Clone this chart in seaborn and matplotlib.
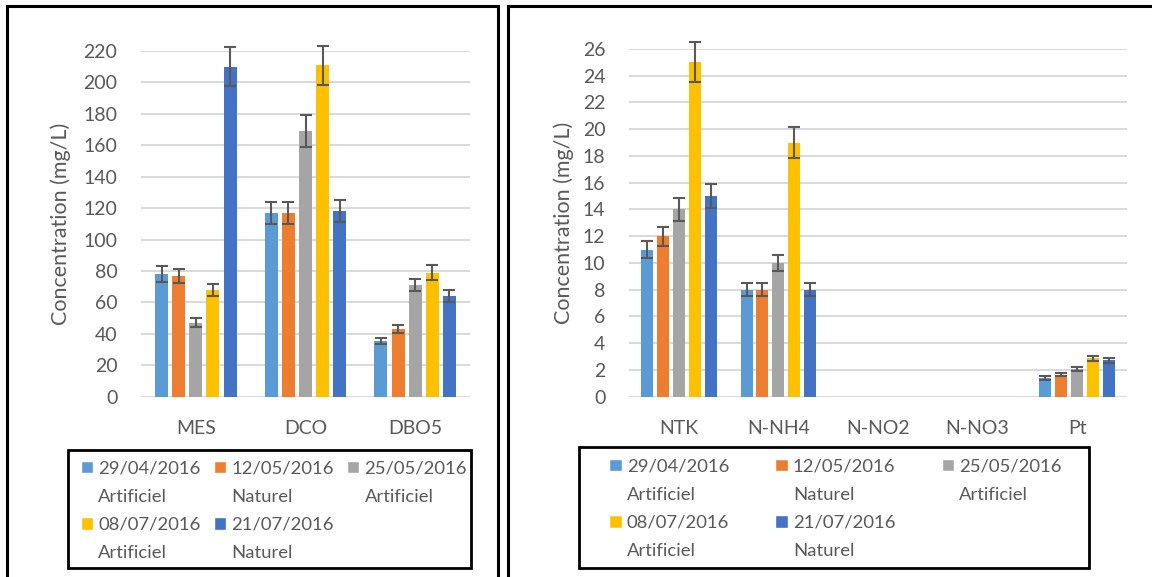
import matplotlib
matplotlib.use("Agg")
import matplotlib.pyplot as plt
import matplotlib.patches as mpatches
from matplotlib.container import BarContainer
from matplotlib.legend_handler import HandlerPatch
import numpy as np
import pandas as pd
import seaborn as sns

# sampling dates (hue) and colours
dates = ["29/04/2016\nArtificiel", "12/05/2016\nNaturel", "25/05/2016\nArtificiel",
         "08/07/2016\nArtificiel", "21/07/2016\nNaturel"]
colors = ["#5B9BD5", "#ED7D31", "#A5A5A5", "#FFC000", "#4472C4"]

# left chart : MES, DCO, DBO5
params_a = ["MES", "DCO", "DBO5"]
mes = [78, 77, 47, 68, 210]
mes_err = [5, 4.5, 2.8, 4, 12.5]
dco = [117, 117, 169, 211, 118]
dco_err = [7, 7, 10, 12.5, 7]
dbo5 = [35.5, 43, 71, 79, 64]
dbo5_err = [2, 2.5, 4, 4.5, 3.8]

# right chart : nitrogen / phosphorus
params_b = ["NTK", "N-NH4", "N-NO2", "N-NO3", "Pt"]
ntk = [11, 12, 14, 25, 15]
ntk_err = [0.65, 0.7, 0.85, 1.5, 0.9]
nnh4 = [8, 8, 10, 19, 8]
nnh4_err = [0.48, 0.48, 0.6, 1.15, 0.48]
nno2 = [np.nan] * 5
nno2_err = [np.nan] * 5
nno3 = [np.nan] * 5
nno3_err = [np.nan] * 5
pt = [1.4, 1.66, 2.06, 2.86, 2.71]
pt_err = [0.12, 0.12, 0.14, 0.18, 0.18]


def long_df(params, vals, errs):
    rows = []
    for p, v, e in zip(params, vals, errs):
        for d, vv, ee in zip(dates, v, e):
            rows.append({"param": p, "date": d, "value": vv, "err": ee})
    return pd.DataFrame(rows)


df_a = long_df(params_a, [mes, dco, dbo5], [mes_err, dco_err, dbo5_err])
df_b = long_df(params_b, [ntk, nnh4, nno2, nno3, pt],
               [ntk_err, nnh4_err, nno2_err, nno3_err, pt_err])

sns.set_style("white")
plt.rcParams["font.family"] = ["Lato", "DejaVu Sans"]
txt = "#595959"

fig = plt.figure(figsize=(11.52, 5.77), dpi=100)
ax1 = fig.add_axes([141 / 1152, 180.3 / 577, 329 / 1152, 345.7 / 577])
ax2 = fig.add_axes([629 / 1152, 180.3 / 577, 498 / 1152, 347.7 / 577])


def square(legend, orig_handle, xdescent, ydescent, width, height, fontsize):
    s = width
    return mpatches.Rectangle((-xdescent, -ydescent + 0.02 * fontsize), s, s)


def draw(ax, df, params, ymax, ystep, width, gap, lpad):
    sns.barplot(data=df, x="param", y="value", hue="date", order=params,
                hue_order=dates, palette=colors, width=width, gap=gap,
                errorbar=None, legend=False, saturation=1, linewidth=0, ax=ax)
    # error bars on top of each bar
    bar_conts = [c for c in ax.containers if isinstance(c, BarContainer)]
    for k, cont in enumerate(bar_conts):
        for bar in cont:
            h = bar.get_height()
            if not np.isfinite(h) or h == 0:
                continue
            xc = bar.get_x() + bar.get_width() / 2
            p = params[int(round(xc))]
            e = df[(df.param == p) & (df.date == dates[k])]["err"].iloc[0]
            ax.errorbar(xc, h, yerr=e, fmt="none", ecolor="#595959",
                        elinewidth=1.5, capsize=4.5, capthick=1.5,
                        clip_on=False, zorder=4)
    ax.set_xlim(-0.5, len(params) - 0.5)
    ax.set_ylim(0, ymax)
    ax.set_yticks(np.arange(0, ymax + 0.1, ystep))
    ax.yaxis.grid(True, color="#D9D9D9", lw=1.4)
    ax.set_axisbelow(True)
    sns.despine(ax=ax, left=True, bottom=True)
    ax.tick_params(axis="both", length=0, labelsize=14, colors=txt)
    ax.tick_params(axis="y", pad=17)
    ax.tick_params(axis="x", pad=17)
    ax.set_xlabel("")
    ax.set_ylabel("Concentration (mg/L)", fontsize=15.5, color=txt, labelpad=lpad)


draw(ax1, df_a, params_a, 220, 20, 0.78, 0.24, 9)
draw(ax2, df_b, params_b, 26, 2, 0.80, 0.25, 6)

# legend: Excel-like row-wise layout, two text lines per entry
blank = mpatches.Patch(facecolor="none", edgecolor="none")
cols = [[0, 3], [1, 4], [2]]
handles, labels = [], []
for col in cols:
    n = 0
    for i in col:
        first, second = dates[i].split("\n")
        handles += [mpatches.Patch(facecolor=colors[i]), blank]
        labels += [first, second]
        n += 2
    while n < 4:
        handles.append(blank)
        labels.append("")
        n += 1

for ax, x0, y0, cs in [(ax1, 80.7, 460.5, 0.7), (ax2, 609, 458.5, 2.5)]:
    leg = ax.legend(handles=handles, labels=labels, ncol=3, loc="upper left",
                    bbox_to_anchor=(x0 / 1152, 1 - y0 / 577),
                    bbox_transform=fig.transFigure, frameon=False, fontsize=13.3,
                    handlelength=0.68, handleheight=0.7, handletextpad=0.28,
                    columnspacing=cs, labelspacing=0.66, borderpad=0,
                    borderaxespad=0, labelcolor=txt,
                    handler_map={mpatches.Patch: HandlerPatch(patch_func=square)})

# legend frames and panel borders
for (x0, y0, x1, y1, lw) in [(68, 450, 471, 568, 2), (579, 447, 1089, 568, 2),
                             (7, 5.7, 498.3, 590, 2.2), (508, 5.7, 1160, 590, 2.2)]:
    fig.add_artist(mpatches.Rectangle((x0 / 1152, 1 - y1 / 577),
                                      (x1 - x0) / 1152, (y1 - y0) / 577,
                                      transform=fig.transFigure, fill=False,
                                      ec="black", lw=lw, clip_on=False))

fig.savefig("out.png", dpi=100)
